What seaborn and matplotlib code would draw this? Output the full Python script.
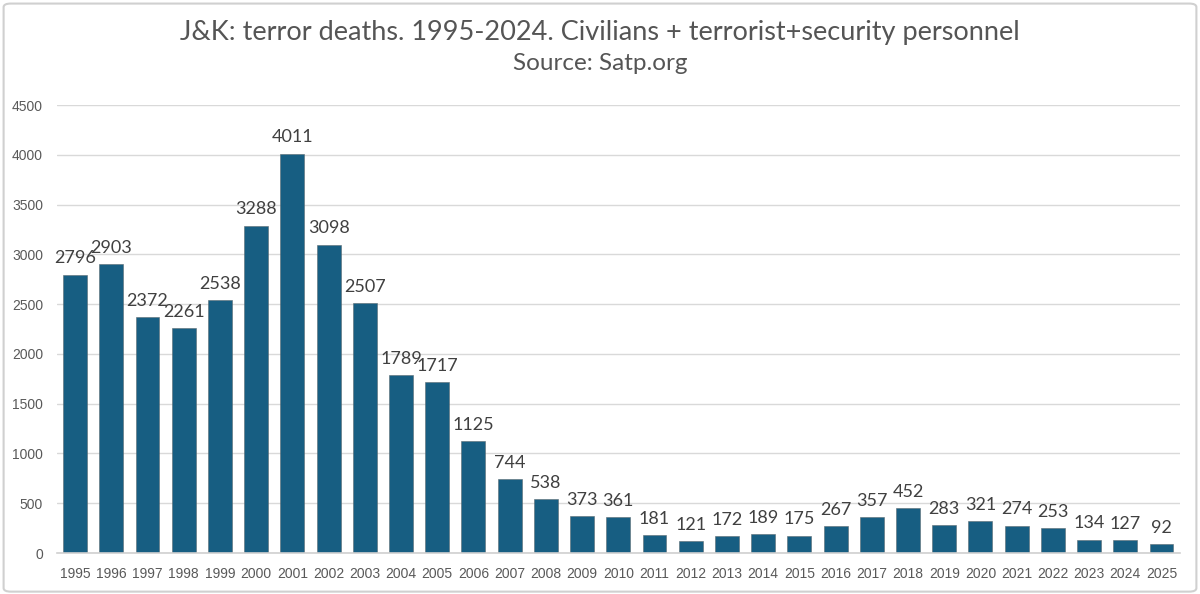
import matplotlib
matplotlib.use("Agg")
import matplotlib.pyplot as plt
import seaborn as sns
import pandas as pd
from matplotlib.patches import FancyBboxPatch

years = [str(y) for y in range(1995, 2026)]
deaths = [2796, 2903, 2372, 2261, 2538, 3288, 4011, 3098, 2507, 1789, 1717, 1125,
          744, 538, 373, 361, 181, 121, 172, 189, 175, 267, 357, 452, 283, 321,
          274, 253, 134, 127, 92]
yticks = [0, 500, 1000, 1500, 2000, 2500, 3000, 3500, 4000, 4500]

df = pd.DataFrame({"year": years, "deaths": deaths})

sns.set_theme(style="white")
plt.rcParams['font.family'] = ['Lato', 'DejaVu Sans']

fig = plt.figure(figsize=(12, 5.94), dpi=100)
fig.patches.append(FancyBboxPatch((0.003, 0.004), 0.994, 0.99, boxstyle="round,pad=0,rounding_size=0.006",
                                  transform=fig.transFigure, fill=False, edgecolor="#d0d0d0", linewidth=1.5))
ax = fig.add_axes([0.0475, 0.069, 0.9355, 0.754])

sns.barplot(data=df, x="year", y="deaths", color="#175e82", saturation=1, width=0.66, ax=ax)
for p in ax.patches:
    p.set_edgecolor("#5a6a72")
    p.set_linewidth(0.4)

ax.set_ylim(0, 4500)
ax.set_xlim(-0.5, len(years) - 0.5)
ax.set_yticks(yticks)
ax.set_yticklabels([str(t) for t in yticks], fontsize=10, color="#595959", family=['Liberation Sans'])
ax.tick_params(axis='x', labelsize=10, colors="#595959", length=0, pad=10)
ax.tick_params(axis='y', length=0, pad=10)
for lab in ax.get_xticklabels():
    lab.set_family(['Liberation Sans'])
ax.yaxis.grid(True, color="#d9d9d9", linewidth=1)
ax.set_axisbelow(True)
for s in ["top", "right", "left"]:
    ax.spines[s].set_visible(False)
ax.spines["bottom"].set_color("#d0d0d0")
ax.spines["bottom"].set_linewidth(1.2)
ax.set_xlabel("")
ax.set_ylabel("")

ax.bar_label(ax.containers[0], labels=[str(v) for v in deaths], padding=6, fontsize=13, color="#404040")

fig.text(0.5, 0.945, "J&K: terror deaths. 1995-2024. Civilians + terrorist+security personnel",
         ha="center", va="center", fontsize=19.5, color="#555555")
fig.text(0.5, 0.893, "Source: Satp.org", ha="center", va="center", fontsize=17.5, color="#555555")

fig.savefig("out.png", dpi=100)
